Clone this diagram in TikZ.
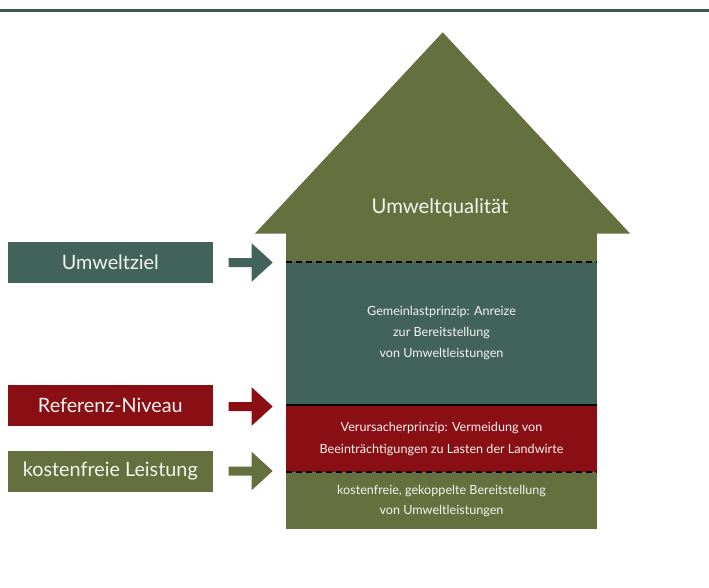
\documentclass[tikz,border=0pt]{standalone}
\usepackage{fontspec}
\setmainfont{Lato}
\usetikzlibrary{positioning}
\definecolor{dgreen}{HTML}{42635A}
\definecolor{dred}{HTML}{8A0F14}
\definecolor{olivec}{HTML}{64703E}
\definecolor{txt}{HTML}{F4F4F0}
\tikzset{
  labelbox/.style={minimum width=205pt, minimum height=40.5pt, inner sep=0pt, text=txt, font=\fontsize{19.8}{22}\selectfont},
  band/.style={minimum width=311pt, inner sep=0pt, anchor=north west},
  bandtext/.style={text=txt, align=center, font=\fontsize{12.6}{21}\selectfont},
  sepdash/.style={line width=2.2pt, dash pattern=on 6pt off 4pt},
  sepsolid/.style={line width=2.2pt},
}
\newcommand{\blockarrow}[2]{% #1 colour, #2 centre y
  \fill[#1] (228.7,#2-4.5) -- (251.7,#2-4.5) -- (251.7,#2-19.2) -- (272.7,#2) -- (251.7,#2+19.2) -- (251.7,#2+4.5) -- (228.7,#2+4.5) -- cycle;}
\begin{document}
\begin{tikzpicture}[x=1pt,y=-1pt]
\useasboundingbox (0,0) rectangle (709,587);
\fill[dgreen!90!black] (0,9.3) rectangle (709,12.3);
% roof
\fill[olivec] (255,233.5) -- (442.7,32.3) -- (630,233.5) -- cycle;
\node[band, fill=olivec, minimum height=29.5pt] (top) at (286,233) {};
\node[band, fill=dgreen, minimum height=143pt] (gem) at (286,262) {};
\node[band, fill=dred, minimum height=67pt] (ver) at (286,405) {};
\node[band, fill=olivec, minimum height=57pt] (kos) at (286,472) {};
\node[text=txt, font=\fontsize{20.3}{22}\selectfont] (uq) at (440,208) {Umweltqualität};
\draw[sepdash] (gem.north west) -- (gem.north east);
\draw[sepsolid] (ver.north west) -- (ver.north east);
\draw[sepdash] (kos.north west) -- (kos.north east);
\node[bandtext] at (441.5,333) {Gemeinlastprinzip: Anreize\\zur Bereitstellung\\von Umweltleistungen};
\node[bandtext] at (441.5,439) {Verursacherprinzip: Vermeidung von\\Beeinträchtigungen zu Lasten der Landwirte};
\node[bandtext, font=\fontsize{12.6}{20}\selectfont] at (441.5,501) {kostenfreie, gekoppelte Bereitstellung\\von Umweltleistungen};
% left labels
\node[labelbox, fill=dgreen] (l1) at (110.3,262.3) {Umweltziel};
\node[labelbox, fill=dred] (l2) at (110.3,405.3) {Referenz-Niveau};
\node[labelbox, fill=olivec] (l3) at (110.3,471.3) {kostenfreie Leistung};
\blockarrow{dgreen}{262.5}
\blockarrow{dred}{406.5}
\blockarrow{olivec}{471}
\end{tikzpicture}
\end{document}
